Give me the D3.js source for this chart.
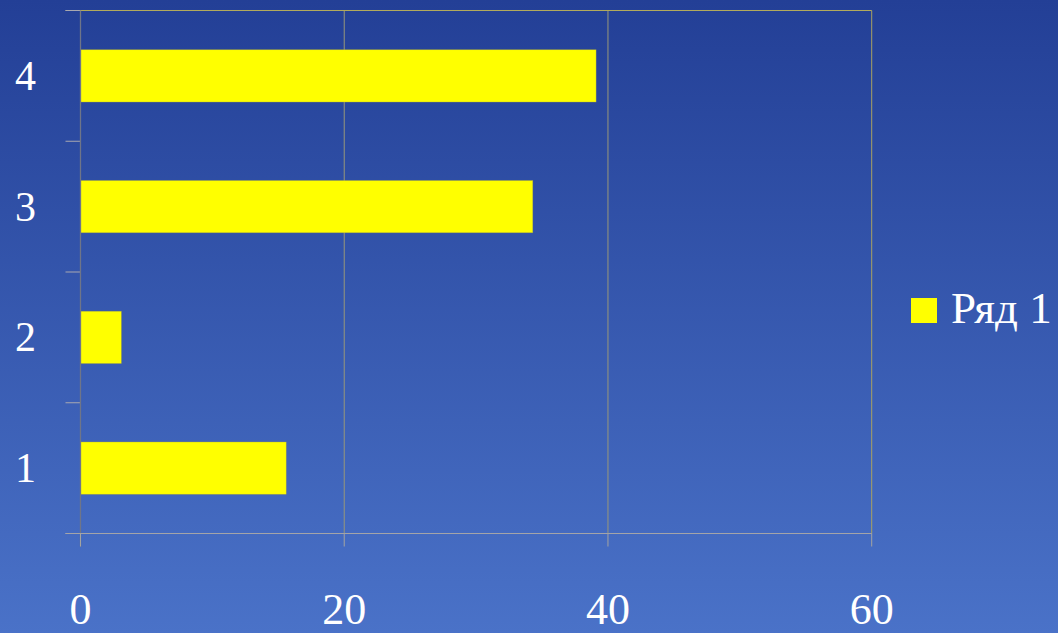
<!DOCTYPE html>
<html>
<head>
<meta charset="utf-8">
<script src="https://cdn.jsdelivr.net/npm/d3@7"></script>
<style>
  html, body { margin: 0; padding: 0; background: #2f55ad; }
  svg { display: block; }
  text { font-family: "Liberation Serif", "DejaVu Serif", serif; fill: #ffffff; font-variant-numeric: oldstyle-nums; }
</style>
</head>
<body>
<svg id="chart" width="1058" height="633"></svg>
<script>
// Series data
const categories = ["1", "2", "3", "4"];
const values = [15.6, 3.1, 34.3, 39.1];
const xTickValues = [0, 20, 40, 60];
const seriesName = "Ряд 1";

const W = 1058, H = 633;
const margin = { left: 80.5, right: 1058 - 871.7, top: 10.5, bottom: 633 - 533.5 };

const svg = d3.select("#chart");

// Background gradient
const defs = svg.append("defs");
const grad = defs.append("linearGradient")
  .attr("id", "bg").attr("x1", 0).attr("y1", 0).attr("x2", 0).attr("y2", 1);
grad.append("stop").attr("offset", "0%").attr("stop-color", "#233f96");
grad.append("stop").attr("offset", "100%").attr("stop-color", "#4a72c8");
svg.append("rect").attr("width", W).attr("height", H).attr("fill", "url(#bg)");

const x = d3.scaleLinear().domain([0, 60]).range([margin.left, W - margin.right]);
const y = d3.scaleBand().domain(categories.slice().reverse())
  .range([margin.top, H - margin.bottom])
  .paddingInner(0.6).paddingOuter(0.3);

const plotTop = margin.top, plotBottom = H - margin.bottom;

// Vertical gridlines (zero is covered by the category axis line)
svg.append("g").selectAll("line").data(xTickValues.filter(d => d > 0)).join("line")
  .attr("x1", d => x(d)).attr("x2", d => x(d))
  .attr("y1", plotTop).attr("y2", plotBottom)
  .attr("stroke", d => d === 60 ? "#a9a262" : "#98977a").attr("stroke-width", 1);

// Top border of plot area
svg.append("line")
  .attr("x1", x(0) - 15).attr("x2", x(60))
  .attr("y1", plotTop).attr("y2", plotTop)
  .attr("stroke", "#b2aa5c").attr("stroke-width", 1);

// Bars
svg.append("g").selectAll("rect").data(categories.map((c, i) => ({ c, v: values[i] }))).join("rect")
  .attr("x", x(0))
  .attr("y", d => y(d.c))
  .attr("width", d => x(d.v) - x(0))
  .attr("height", y.bandwidth())
  .attr("fill", "#ffff00")
  .attr("stroke", "#9c9c4a").attr("stroke-width", 0.6).attr("stroke-opacity", 0.6);

// Category axis (left) with ticks between categories
const boundaries = d3.range(categories.length + 1)
  .map(i => plotTop + i * ((plotBottom - plotTop) / categories.length));
svg.append("g").selectAll("line").data(boundaries).join("line")
  .attr("x1", x(0) - 15).attr("x2", x(0))
  .attr("y1", d => d).attr("y2", d => d)
  .attr("stroke", "#a8a8b0").attr("stroke-width", 1);
svg.append("line")
  .attr("x1", x(0)).attr("x2", x(0))
  .attr("y1", plotTop).attr("y2", plotBottom + 13)
  .attr("stroke", "#6f7588").attr("stroke-width", 1.3);

// Value axis (bottom)
svg.append("line")
  .attr("x1", x(0) - 15).attr("x2", x(60))
  .attr("y1", plotBottom).attr("y2", plotBottom)
  .attr("stroke", "#a4a4a8").attr("stroke-width", 1);
svg.append("g").selectAll("line").data(xTickValues).join("line")
  .attr("x1", d => x(d)).attr("x2", d => x(d))
  .attr("y1", plotBottom).attr("y2", plotBottom + 13)
  .attr("stroke", "#a4a4a0").attr("stroke-width", 1);

// Value labels
svg.append("g").selectAll("text").data(xTickValues).join("text")
  .attr("x", d => x(d)).attr("y", 624)
  .attr("text-anchor", "middle")
  .attr("font-size", 44)
  .text(d => d);

// Category labels
svg.append("g").selectAll("text").data(categories).join("text")
  .attr("x", 36).attr("y", d => y(d) + y.bandwidth() / 2 + 14)
  .attr("text-anchor", "end")
  .attr("font-size", 42)
  .text(d => d);

// Legend
const lg = svg.append("g");
lg.append("rect").attr("x", 911).attr("y", 298).attr("width", 26).attr("height", 25).attr("fill", "#ffff00");
lg.append("text").attr("x", 951).attr("y", 323).attr("font-size", 45).text(seriesName);
</script>
</body>
</html>
